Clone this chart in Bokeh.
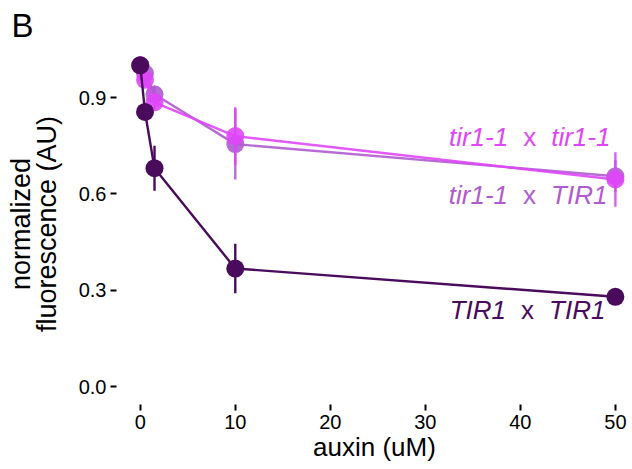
from bokeh.plotting import figure
from bokeh.models import Label, FixedTicker, NumeralTickFormatter, Range1d
from bokeh.embed import file_html
from bokeh.resources import INLINE

# ---- data ----
auxin = [0, 0.5, 1.5, 10, 50]

tir_tir_mean = [1.0, 0.955, 0.885, 0.78, 0.645]
tir_tir_err = [0.0, 0.02, 0.025, 0.09, 0.085]

tir_TIR_mean = [1.0, 0.975, 0.91, 0.755, 0.655]
tir_TIR_err = [0.0, 0.02, 0.025, 0.11, 0.05]

TIR_TIR_mean = [1.0, 0.855, 0.68, 0.368, 0.28]
TIR_TIR_err = [0.0, 0.02, 0.07, 0.077, 0.01]

x_ticks = [0, 10, 20, 30, 40, 50]
y_ticks = [0.0, 0.3, 0.6, 0.9]

series_names = [("tir1-1", "tir1-1"), ("tir1-1", "TIR1"), ("TIR1", "TIR1")]
label_y = [0.776, 0.598, 0.24]

C_PINK = "#DF46F8"
C_MED = "#B05AD0"
C_DARK = "#4A0B5C"

FONT = "Liberation Sans"

p = figure(width=632, height=469, output_backend="svg", toolbar_location=None,
           x_range=Range1d(-2.5, 51.8), y_range=Range1d(-0.055, 1.068),
           min_border_left=116, min_border_right=0, min_border_top=43,
           min_border_bottom=65)
p.outline_line_color = None
p.xgrid.visible = False
p.ygrid.visible = False
p.background_fill_color = "white"
p.border_fill_color = "white"

# panel letter as a left-aligned title pulled to the left edge
p.title.text = "B"
p.title.align = "left"
p.title.offset = -105
p.title.standoff = 0
p.title.text_font = FONT
p.title.text_font_size = "33px"
p.title.text_line_height = 0.9
p.title.text_font_style = "normal"
p.title.text_color = "black"

for ax in (p.xaxis[0], p.yaxis[0]):
    ax.axis_line_color = None
    ax.major_tick_line_color = "black"
    ax.major_tick_line_width = 2
    ax.major_tick_in = 0
    ax.major_tick_out = 6
    ax.minor_tick_line_color = None
    ax.major_label_text_font = FONT
    ax.major_label_text_font_size = "20px"
    ax.major_label_text_color = "black"
    ax.axis_label_text_font = FONT
    ax.axis_label_text_font_size = "26px"
    ax.axis_label_text_font_style = "normal"
    ax.axis_label_text_color = "black"

p.xaxis.ticker = FixedTicker(ticks=x_ticks)
p.yaxis.ticker = FixedTicker(ticks=y_ticks)
p.yaxis.formatter = NumeralTickFormatter(format="0.0")
p.xaxis.axis_label = "auxin (uM)"
p.yaxis.axis_label = "normalized\nfluorescence (AU)"
p.yaxis.axis_label_text_font_size = "27px"
p.yaxis.axis_label_text_line_height = 0.85
p.xaxis.major_label_standoff = 4
p.yaxis.major_label_standoff = 4
p.xaxis.axis_label_standoff = 0
p.yaxis.axis_label_standoff = 14

groups = [
    (tir_TIR_mean, tir_TIR_err, C_MED, 0.9),
    (tir_tir_mean, tir_tir_err, C_PINK, 0.9),
    (TIR_TIR_mean, TIR_TIR_err, C_DARK, 1.0),
]
for mean, err, col, a in groups:
    lo = [m - e for m, e in zip(mean, err)]
    hi = [m + e for m, e in zip(mean, err)]
    p.segment(x0=auxin, y0=lo, x1=auxin, y1=hi, line_color=col, line_width=2.4, line_alpha=a)
    p.line(auxin, mean, line_color=col, line_width=2.4, line_alpha=a)
    p.scatter(auxin, mean, size=18, fill_color=col, line_color=None, fill_alpha=a)

# labels with italic gene names and upright "x"
def wid(s, fs):
    m = {"t": 278, "i": 222, "r": 333, "1": 556, "-": 333, "T": 611, "I": 278,
         "R": 722, "x": 500}
    return sum(m[c] for c in s) / 1000.0 * fs

FS = 26
gap = 15
right_offsets = [-5, -8, -10]
label_cols = [C_PINK, C_MED, C_DARK]
for (left, right), yv, off, col in zip(series_names, label_y, right_offsets, label_cols):
    common = dict(x=50, y=yv, text_font=FONT, text_font_size=f"{FS}px",
                  text_color=col, text_baseline="alphabetic")
    p.add_layout(Label(text=right, text_align="right", x_offset=off,
                       text_font_style="italic", **common))
    wr = wid(right, FS)
    wx = wid("x", FS)
    p.add_layout(Label(text="x", text_align="center",
                       x_offset=off - wr - gap - wx / 2, **common))
    p.add_layout(Label(text=left, text_align="right",
                       x_offset=off - wr - 2 * gap - wx,
                       text_font_style="italic", **common))

open("out.html", "w").write(file_html(p, INLINE))
